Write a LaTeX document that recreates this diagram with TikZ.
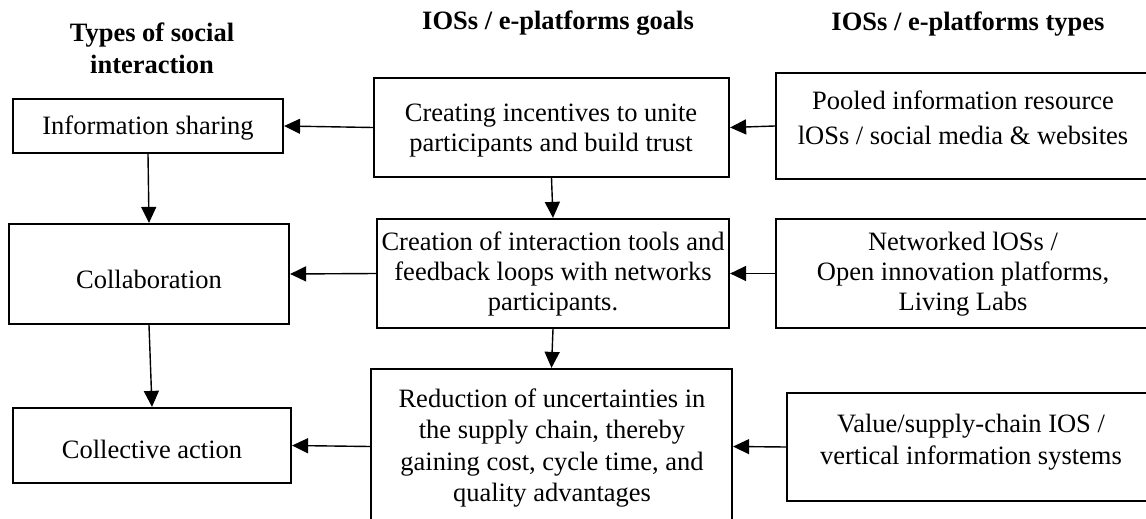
\documentclass[tikz,border=0pt]{standalone}
\usepackage{fontspec}
\setmainfont{Liberation Serif}
\usetikzlibrary{arrows.meta,fit}
\begin{document}
\begin{tikzpicture}[x=0.5pt,y=-0.5pt,
  box/.style={draw, line width=1.1pt, inner sep=0pt},
  txt/.style={align=center, inner sep=0pt, font=\fontsize{13.25}{15}\selectfont},
  hdr/.style={align=center, inner sep=0pt, font=\fontsize{13.25}{16}\selectfont\bfseries},
  arr/.style={line width=0.7pt, -{Triangle[length=8pt,width=7.5pt]}}]
\path[use as bounding box] (0,0) rectangle (1146,519);
\clip (0,0) rectangle (1146,519);
% boxes
\node[box, fit={(13,99)(283,153)}] (info) {};
\node[box, fit={(9,224)(289,324)}] (collab) {};
\node[box, fit={(13,408)(291,483)}] (collect) {};
\node[box, fit={(374,78)(729,177)}] (incent) {};
\node[box, fit={(377,219)(729,328)}] (creation) {};
\node[box, fit={(371,369)(732,524)}] (reduc) {};
\node[box, fit={(776,73)(1150,179)}] (pooled) {};
\node[box, fit={(776,219)(1150,328)}] (networked) {};
\node[box, fit={(787,393)(1155,501)}] (valuebox) {};
% texts
\node[hdr] (h1) at (152,48) {Types of social\\interaction};
\node[hdr] (h2) at (558,23) {IOSs / e-platforms goals};
\node[hdr] (h3) at (968,24) {IOSs / e-platforms types};
\node[txt] (tinfo) at (148,128) {Information sharing};
\node[txt] (tcollab) at (149,279) {Collaboration};
\node[txt] (tcollect) at (152,449) {Collective action};
\node[txt] (tincent) at (551,131) {Creating incentives to unite\\participants and build trust};
\node[txt] (tcreation) at (553,274) {Creation of interaction tools and\\feedback loops with networks\\participants.};
\node[txt, font=\fontsize{13.25}{15.75}\selectfont] (treduc) at (552,448) {Reduction of uncertainties in\\the supply chain, thereby\\gaining cost, cycle time, and\\quality advantages};
\node[txt, font=\fontsize{13.25}{17.5}\selectfont] (tpooled) at (963,118) {Pooled information resource\\lOSs / social media \& websites};
\node[txt] (tnetworked) at (963,274) {Networked lOSs /\\Open innovation platforms,\\Living Labs};
\node[txt, font=\fontsize{13.25}{16}\selectfont] (tvalue) at (971,442) {Value/supply-chain IOS /\\vertical information systems};
% connectors
\draw[arr] (incent.west) -- (info.east);
\draw[arr] (pooled.west) -- (incent.east);
\draw[arr] (creation.west) -- (collab.east);
\draw[arr] (networked.west) -- (creation.east);
\draw[arr] (reduc.west) -- (collect.east);
\draw[arr] (valuebox.west) -- (reduc.east);
\draw[arr] (info.south) -- (collab.north);
\draw[arr] (collab.south) -- (collect.north);
\draw[arr] (incent.south) -- (creation.north);
\draw[arr] (creation.south) -- (reduc.north);
\end{tikzpicture}
\end{document}
